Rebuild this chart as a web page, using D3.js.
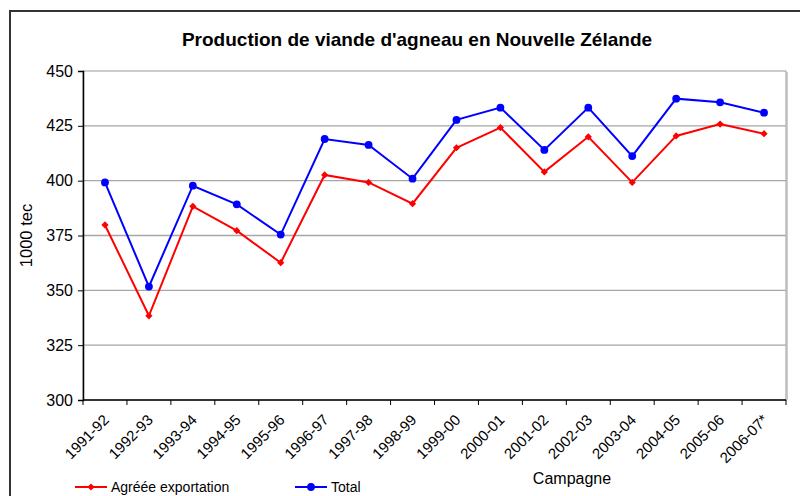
<!DOCTYPE html>
<html>
<head>
<meta charset="utf-8">
<script src="https://cdn.jsdelivr.net/npm/d3@7"></script>
<style>
  body { margin: 0; background: #fff; }
  svg { font-family: "Liberation Sans", Arial, sans-serif; }
</style>
</head>
<body>
<svg id="chart"></svg>
<script>
// campaigns (x categories)
var campagnes = ["1991-92","1992-93","1993-94","1994-95","1995-96","1996-97","1997-98","1998-99",
                 "1999-00","2000-01","2001-02","2002-03","2003-04","2004-05","2005-06","2006-07*"];
// 1000 tec
var agreeeExport = [379.8, 338.4, 388.3, 377.2, 362.6, 402.6, 399.2, 389.5,
                    415.0, 424.2, 404.0, 420.0, 399.2, 420.4, 425.8, 421.4];
var total = [399.2, 351.7, 397.7, 389.2, 375.4, 419.0, 416.3, 400.9,
             427.7, 433.3, 414.0, 433.3, 411.2, 437.4, 435.7, 431.0];
var yTicks = [300, 325, 350, 375, 400, 425, 450];

var width = 800, height = 496;
var plot = {left: 83, top: 71, right: 786, bottom: 400};

var svg = d3.select("#chart").attr("width", width).attr("height", height);

// outer chart frame
svg.append("rect")
  .attr("x", 10).attr("y", 11)
  .attr("width", 800).attr("height", 500)
  .style("fill", "none").style("stroke", "#333").style("stroke-width", 2);

var x = d3.scaleBand().domain(campagnes).range([plot.left, plot.right]);
var y = d3.scaleLinear().domain([300, 450]).range([plot.bottom, plot.top]);

// plot area border (grey, with a bit of shadow on the right)
svg.append("rect")
  .attr("x", plot.left).attr("y", plot.top)
  .attr("width", plot.right - plot.left).attr("height", plot.bottom - plot.top)
  .style("fill", "none").style("stroke", "#999").style("stroke-width", 1);
svg.append("line")
  .attr("x1", plot.right + 1).attr("x2", plot.right + 1)
  .attr("y1", plot.top + 1).attr("y2", plot.bottom)
  .style("stroke", "#bbb").style("stroke-width", 1.5);

// gridlines
svg.append("g").selectAll("line").data(yTicks.slice(1, -1))
  .enter().append("line")
  .attr("x1", plot.left).attr("x2", plot.right)
  .attr("y1", function(d){ return y(d); }).attr("y2", function(d){ return y(d); })
  .style("stroke", "#a6a6a6").style("stroke-width", 1.3);

// y axis
var yAxis = svg.append("g")
  .attr("transform", "translate(" + plot.left + ",0)")
  .call(d3.axisLeft(y).tickValues(yTicks).tickSize(5).tickPadding(5));
yAxis.select(".domain").style("stroke", "#000").style("stroke-width", 1.5);
yAxis.selectAll(".tick line").style("stroke", "#000");
yAxis.selectAll("text").style("font-size", "16px").style("fill", "#000")
  .style("font-family", "'Liberation Sans', Arial, sans-serif");

// x axis: ticks on band edges
var xAxisG = svg.append("g").attr("transform", "translate(0," + plot.bottom + ")");
xAxisG.append("line")
  .attr("x1", plot.left).attr("x2", plot.right)
  .style("stroke", "#000").style("stroke-width", 1.5);
xAxisG.selectAll("line.tk").data(campagnes.concat(["end"]))
  .enter().append("line").attr("class", "tk")
  .attr("x1", function(d, i){ return plot.left + i * x.bandwidth(); })
  .attr("x2", function(d, i){ return plot.left + i * x.bandwidth(); })
  .attr("y1", 0).attr("y2", 5)
  .style("stroke", "#000");
xAxisG.selectAll("text").data(campagnes)
  .enter().append("text")
  .attr("transform", function(d){
    return "translate(" + (x(d) + x.bandwidth() / 2 - 3) + ",13) rotate(-45)";
  })
  .attr("text-anchor", "end")
  .attr("dy", "0.75em")
  .style("font-size", "15px")
  .text(function(d){ return d; });

// titles
svg.append("text")
  .attr("x", 417).attr("y", 46)
  .attr("text-anchor", "middle")
  .style("font-size", "19px").style("font-weight", "bold")
  .text("Production de viande d'agneau en Nouvelle Zélande");
svg.append("text")
  .attr("transform", "translate(32," + ((plot.top + plot.bottom) / 2) + ") rotate(-90)")
  .attr("text-anchor", "middle")
  .style("font-size", "16.5px")
  .text("1000 tec");
svg.append("text")
  .attr("x", 572).attr("y", 484)
  .attr("text-anchor", "middle")
  .style("font-size", "16px")
  .text("Campagne");

// series
var line = d3.line()
  .x(function(d, i){ return x(campagnes[i]) + x.bandwidth() / 2; })
  .y(function(d){ return y(d); });

var series = [
  {name: "Agréée exportation", values: agreeeExport, color: "#ff0000", marker: d3.symbolSquare, size: 26, rot: 45},
  {name: "Total", values: total, color: "#0000ff", marker: d3.symbolCircle, size: 48, rot: 0}
];

series.forEach(function(s){
  svg.append("path").datum(s.values)
    .attr("d", line)
    .style("fill", "none").style("stroke", s.color).style("stroke-width", 2);
  svg.append("g").selectAll("path").data(s.values)
    .enter().append("path")
    .attr("d", d3.symbol().type(s.marker).size(s.size))
    .attr("transform", function(d, i){
      return "translate(" + (x(campagnes[i]) + x.bandwidth() / 2) + "," + y(d) + ") rotate(" + s.rot + ")";
    })
    .style("fill", s.color);
});

// legend
var legendPos = [75, 295];
series.forEach(function(s, i){
  var g = svg.append("g").attr("transform", "translate(" + legendPos[i] + ",487)");
  g.append("line").attr("x1", 0).attr("x2", 32)
    .style("stroke", s.color).style("stroke-width", 2);
  g.append("path").attr("d", d3.symbol().type(s.marker).size(s.size))
    .attr("transform", "translate(16,0) rotate(" + s.rot + ")").style("fill", s.color);
  g.append("text").attr("x", 36).attr("dy", "0.35em")
    .style("font-size", "14px")
    .text(s.name);
});
</script>
</body>
</html>
